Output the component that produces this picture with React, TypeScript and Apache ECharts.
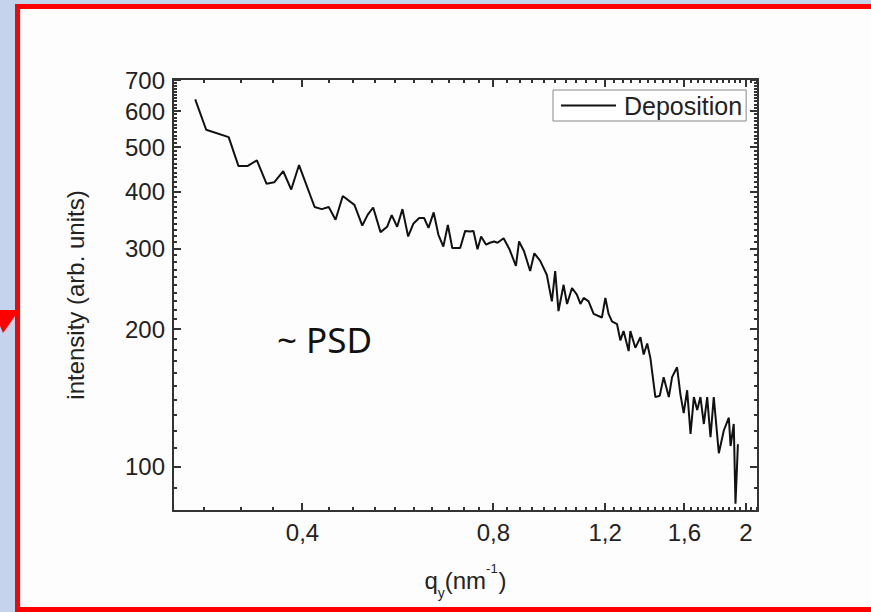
import React, { useEffect, useRef } from 'react';
import * as echarts from 'echarts';

// ---- data ----
const seriesName = 'Deposition';

const qValues = [
  0.271, 0.282, 0.306, 0.317, 0.328, 0.339, 0.351, 0.361, 0.373, 0.384,
  0.395, 0.418, 0.429, 0.440, 0.451, 0.463, 0.483, 0.497, 0.507, 0.517,
  0.531, 0.544, 0.553, 0.564, 0.575, 0.587, 0.598, 0.611, 0.622, 0.632,
  0.644, 0.655, 0.667, 0.678, 0.689, 0.709, 0.722, 0.735, 0.744, 0.755,
  0.765, 0.779, 0.790, 0.802, 0.812, 0.830, 0.848, 0.868, 0.878, 0.894,
  0.914, 0.928, 0.948, 0.971, 0.989, 1.001, 1.013, 1.032, 1.045, 1.064,
  1.083, 1.097, 1.110, 1.130, 1.151, 1.186, 1.201, 1.215, 1.230, 1.253,
  1.268, 1.283, 1.307, 1.315, 1.339, 1.364, 1.380, 1.398, 1.414, 1.440,
  1.463, 1.484, 1.512, 1.530, 1.558, 1.577, 1.596, 1.616, 1.636, 1.656,
  1.676, 1.696, 1.717, 1.738, 1.759, 1.780, 1.813, 1.846, 1.880, 1.892,
  1.914, 1.926, 1.943,
];

const intensityValues = [
  636, 546, 526, 455, 455, 468, 416, 419, 443, 404,
  457, 370, 366, 370, 347, 391, 374, 337, 356, 369,
  326, 335, 355, 335, 366, 319, 340, 350, 350, 333,
  360, 322, 303, 338, 301, 301, 328, 327, 328, 299,
  319, 306, 309, 311, 309, 316, 299, 275, 311, 296,
  268, 293, 282, 263, 230, 268, 219, 250, 227, 246,
  238, 227, 234, 230, 216, 212, 234, 216, 208, 205,
  189, 198, 179, 198, 182, 192, 176, 186, 173, 142,
  143, 157, 142, 157, 165, 144, 131, 147, 118, 142,
  133, 142, 124, 142, 116, 142, 107, 120, 128, 111,
  124, 83, 112,
];

const xMajorTicks = [0.4, 0.8, 1.2, 1.6, 2.0];
const xMinorTicks = [
  0.28, 0.32, 0.36, 0.44, 0.48, 0.52, 0.56, 0.6, 0.64, 0.68, 0.72, 0.76,
  0.84, 0.88, 0.92, 0.96, 1.0, 1.04, 1.08, 1.12, 1.16,
  1.24, 1.28, 1.32, 1.36, 1.4, 1.44, 1.48, 1.52, 1.56,
  1.64, 1.68, 1.72, 1.76, 1.8, 1.84, 1.88, 1.92, 1.96, 2.04, 2.08,
];
const yMajorTicks = [100, 200, 300, 400, 500, 600, 700];
const yMinorTicks = [
  90, 110, 120, 130, 140, 150, 160, 170, 180, 190,
  210, 220, 230, 240, 250, 260, 270, 280, 290,
  310, 320, 330, 340, 350, 360, 370, 380, 390,
  410, 420, 430, 440, 450, 460, 470, 480, 490,
  510, 520, 530, 540, 550, 560, 570, 580, 590,
  610, 620, 630, 640, 650, 660, 670, 680, 690,
];

const X_MIN = 0.25;
const X_MAX = 2.09;
const Y_MIN = 80;
const Y_MAX = 705;

// layout of the plot frame (pixels)
const GRID_LEFT = 173;
const GRID_RIGHT = 113;
const GRID_TOP = 79;
const GRID_BOTTOM = 101;
const W = 871;
const H = 612;

const MAJOR_LEN = 8;
const MINOR_LEN = 4;
const TICK_W = 2;
const AXIS_COLOR = '#333';
const FONT = '"Liberation Sans", Arial, sans-serif';

function makeXAxis(position: string, labels: boolean) {
  return {
    type: 'log',
    logBase: 10,
    min: X_MIN,
    max: X_MAX,
    position,
    axisLine: { show: true, onZero: false, lineStyle: { color: AXIS_COLOR, width: 2 } },
    axisTick: { show: false },
    axisLabel: {
      show: labels,
      customValues: xMajorTicks,
      margin: 9,
      fontSize: 24,
      fontFamily: FONT,
      color: '#222',
      formatter: (v: number) => String(Math.round(v * 100) / 100).replace('.', ','),
    },
    splitLine: { show: false },
    minorTick: { show: false },
    minorSplitLine: { show: false },
  };
}

function makeYAxis(position: string, labels: boolean) {
  return {
    type: 'log',
    logBase: 10,
    min: Y_MIN,
    max: Y_MAX,
    position,
    axisLine: { show: true, onZero: false, lineStyle: { color: AXIS_COLOR, width: 2 } },
    axisTick: { show: false },
    axisLabel: {
      show: labels,
      customValues: yMajorTicks,
      margin: 8,
      fontSize: 24,
      fontFamily: FONT,
      color: '#222',
      formatter: (v: number) => String(Math.round(v)),
    },
    splitLine: { show: false },
    minorTick: { show: false },
    minorSplitLine: { show: false },
  };
}

export default function App() {
  const ref = useRef<HTMLDivElement>(null);

  useEffect(() => {
    if (!ref.current) return;
    const chart = echarts.init(ref.current, null, { renderer: 'svg' });

    const xBottom: any = makeXAxis('bottom', true);
    xBottom.name = '{a|q}{sub|y}{a|(nm}{sup|-1}{a|)}';
    xBottom.nameLocation = 'middle';
    xBottom.nameGap = 55;
    xBottom.nameTextStyle = {
      fontFamily: FONT,
      color: '#222',
      rich: {
        a: { fontSize: 24, fontFamily: FONT, color: '#222', lineHeight: 28 },
        sub: { fontSize: 14, fontFamily: FONT, color: '#222', verticalAlign: 'bottom', lineHeight: 28, padding: [0, 0, -6, 0] },
        sup: { fontSize: 13, fontFamily: FONT, color: '#222', verticalAlign: 'top', lineHeight: 28, padding: [-4, 1, 0, 0] },
      },
    };

    const yLeft: any = makeYAxis('left', true);
    yLeft.name = 'intensity (arb. units)';
    yLeft.nameLocation = 'middle';
    yLeft.nameGap = 86;
    yLeft.nameRotate = 90;
    yLeft.nameTextStyle = { fontSize: 24, fontFamily: FONT, color: '#222' };

    const baseGraphics: any[] = [
      {
        type: 'rect',
        z: -10,
        silent: true,
        shape: { x: 17.5, y: 6.5, width: 900, height: 603 },
        style: { fill: '#fdfdfd', stroke: '#ff0000', lineWidth: 5 },
      },
      {
        type: 'polygon',
        z: -10,
        silent: true,
        shape: { points: [[0, 310], [15, 310], [15, 316], [3, 333], [0, 326]] },
        style: { fill: '#ff0000' },
      },
      {
        type: 'text',
        left: 277,
        top: 322,
        silent: true,
        style: { text: '~ PSD', fontSize: 35, fontFamily: '"Noto Sans", "Open Sans", sans-serif', fill: '#111' },
      },
    ];

    const option: any = {
      animation: false,
      backgroundColor: '#c5d3ec',
      grid: { left: GRID_LEFT, right: GRID_RIGHT, top: GRID_TOP, bottom: GRID_BOTTOM, containLabel: false },
      graphic: baseGraphics,
      legend: {
        show: true,
        selectedMode: false,
        data: [{ name: seriesName, icon: 'rect' }],
        left: 553,
        top: 90,
        itemWidth: 55,
        itemHeight: 2,
        padding: [3, 4, 3, 8],
        borderColor: '#888',
        borderWidth: 1,
        backgroundColor: '#ffffff',
        textStyle: { fontSize: 25, fontFamily: FONT, color: '#222', padding: [0, 0, 0, 3] },
      },
      xAxis: [xBottom, makeXAxis('top', false)],
      yAxis: [yLeft, makeYAxis('right', false)],
      series: [
        {
          name: seriesName,
          type: 'line',
          xAxisIndex: 0,
          yAxisIndex: 0,
          data: qValues.map((q, i) => [q, intensityValues[i]]),
          showSymbol: false,
          symbol: 'none',
          lineStyle: { color: '#111', width: 2 },
          itemStyle: { color: '#111' },
          z: 3,
        },
      ],
    };

    chart.setOption(option);

    // tick marks: positions along each axis come from the axes' own log scales
    const toPx = (v: number): number => {
      const r: any = chart.convertToPixel({ xAxisIndex: 0 }, v);
      return Array.isArray(r) ? Number(r[0]) : Number(r);
    };
    const toPy = (v: number): number => {
      const r: any = chart.convertToPixel({ yAxisIndex: 0 }, v);
      return Array.isArray(r) ? Number(r[1]) : Number(r);
    };
    const gl = GRID_LEFT;
    const gr = W - GRID_RIGHT;
    const gt = GRID_TOP;
    const gb = H - GRID_BOTTOM;

    // one polyline-free path set: every tick as its own small polygon
    const ticks: any[] = [];
    const box = (x: number, y: number, w: number, h: number) => ({
      type: 'polygon',
      shape: { points: [[x, y], [x + w, y], [x + w, y + h], [x, y + h]] },
      style: { fill: AXIS_COLOR },
    });
    const addX = (v: number, len: number) => {
      const x = Math.round(toPx(v));
      if (!isFinite(x)) return;
      ticks.push(box(x - TICK_W / 2, gb - len, TICK_W, len));
      ticks.push(box(x - TICK_W / 2, gt, TICK_W, len));
    };
    const addY = (v: number, len: number) => {
      const y = Math.round(toPy(v));
      if (!isFinite(y)) return;
      ticks.push(box(gl, y - TICK_W / 2, len, TICK_W));
      ticks.push(box(gr - len, y - TICK_W / 2, len, TICK_W));
    };
    xMajorTicks.forEach((v) => addX(v, MAJOR_LEN));
    xMinorTicks.forEach((v) => addX(v, MINOR_LEN));
    yMajorTicks.forEach((v) => addY(v, MAJOR_LEN));
    yMinorTicks.forEach((v) => addY(v, MINOR_LEN));

    chart.setOption({ graphic: baseGraphics.concat(ticks) });

    return () => chart.dispose();
  }, []);

  return (
    <div
      ref={ref}
      style={{ position: 'fixed', left: 0, top: 0, width: W, height: H }}
    />
  );
}
